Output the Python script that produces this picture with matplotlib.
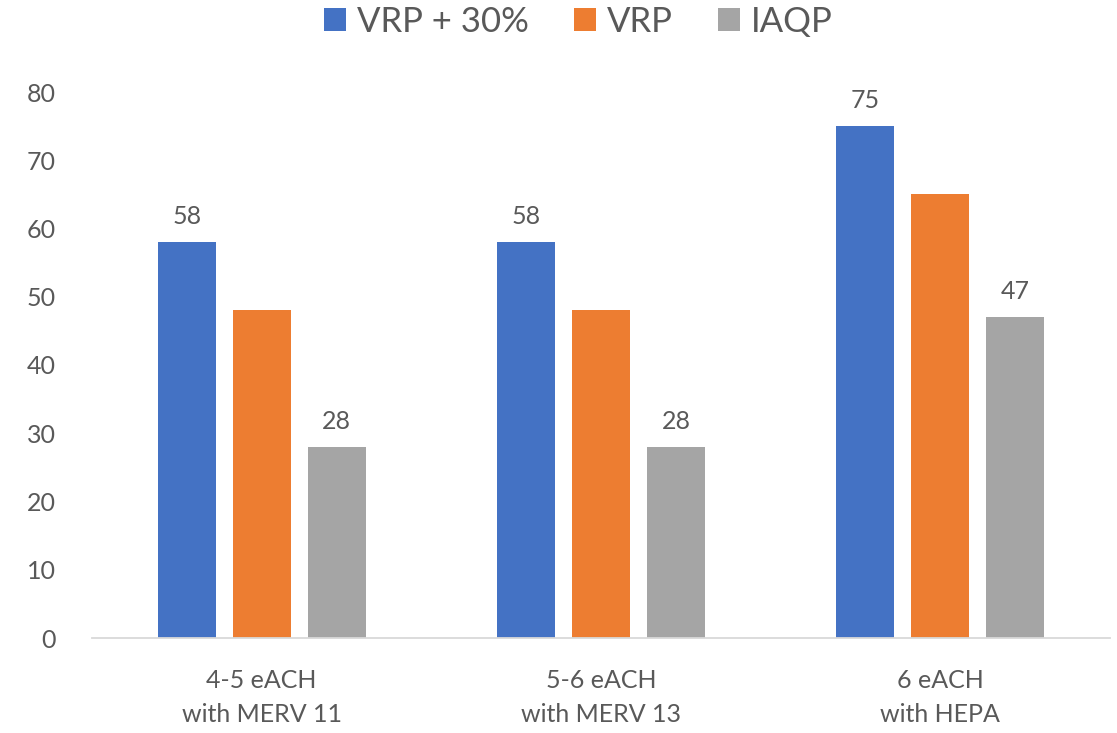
import matplotlib.pyplot as plt
import numpy as np

categories = ["4-5 eACH\nwith MERV 11", "5-6 eACH\nwith MERV 13", "6 eACH\nwith HEPA"]
series_names = ["VRP + 30%", "VRP", "IAQP"]
vrp_30 = [58, 58, 75]
vrp = [48, 48, 65]
iaqp = [28, 28, 47]
show_labels = [True, False, True]
colors = ["#4472C4", "#ED7D31", "#A5A5A5"]
yticks = [0, 10, 20, 30, 40, 50, 60, 70, 80]

plt.rcParams['font.family'] = ['Lato', 'DejaVu Sans']
text_color = "#595959"

fig = plt.figure(figsize=(11.17, 7.33), dpi=100)
ax = fig.add_axes([92 / 1117, 95 / 733, (1110 - 92) / 1117, (638 - 92) / 733])

x = np.arange(len(categories))
width = 0.171
step = 0.221
handles = []
for i, (vals, name, c, lab) in enumerate(zip([vrp_30, vrp, iaqp], series_names, colors, show_labels)):
    bars = ax.bar(x + (i - 1) * step, vals, width, color=c, label=name)
    handles.append(bars)
    if lab:
        ax.bar_label(bars, labels=[str(v) for v in vals], padding=10,
                     fontsize=18, color=text_color)

ax.set_xlim(-0.5, 2.5)
ax.set_ylim(0, 80)
ax.set_yticks(yticks)
ax.set_xticks(x)
ax.set_xticklabels(categories, fontsize=18, color=text_color, linespacing=1.6)
ax.tick_params(axis='y', length=0, pad=26, labelsize=18, labelcolor=text_color)
ax.tick_params(axis='x', length=0, pad=22)
for s in ["top", "right", "left"]:
    ax.spines[s].set_visible(False)
ax.spines["bottom"].set_color("#D9D9D9")
ax.spines["bottom"].set_linewidth(1.3)

fig.legend(handles=handles, labels=series_names, loc="center", bbox_to_anchor=(578 / 1117, 1 - 22 / 733),
           ncol=3, frameon=False, fontsize=25, labelcolor=text_color,
           handlelength=0.65, handleheight=0.65, handletextpad=0.3, columnspacing=1.3)

fig.savefig("out.png", dpi=100)
